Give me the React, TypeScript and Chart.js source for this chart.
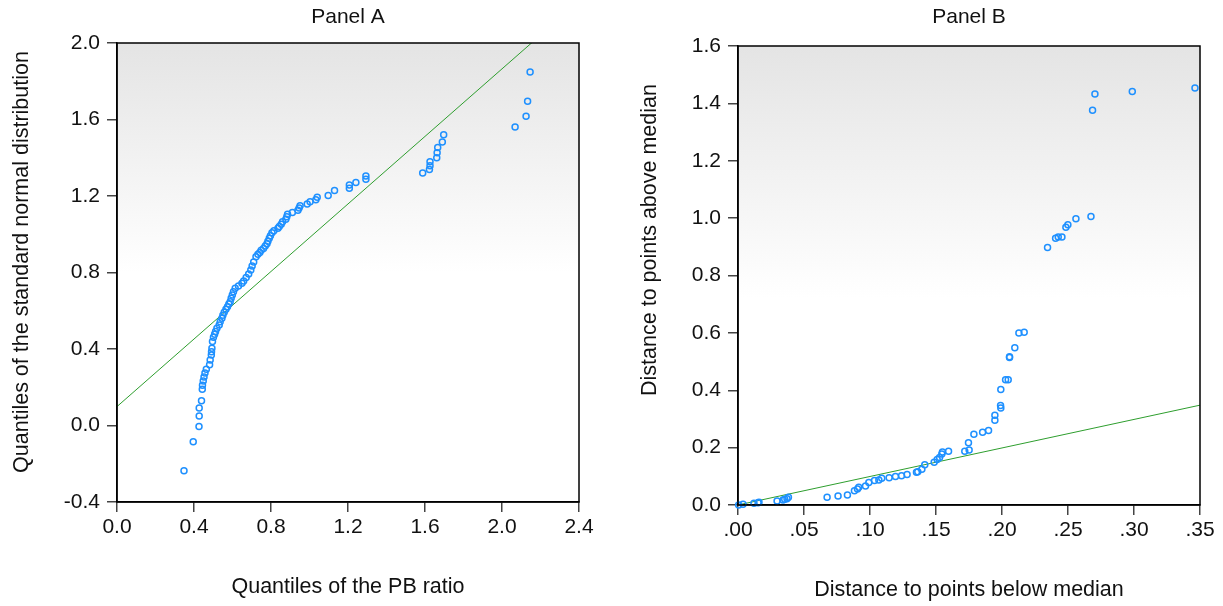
import React, { useEffect, useRef } from "react";
import { Chart, registerables } from "chart.js";

Chart.register(...registerables);

const FONT = "'Liberation Sans', Arial, Helvetica, sans-serif";

// ---------------- Panel A data ----------------
const panelATitle = "Panel A";
const panelAXLabel = "Quantiles of the PB ratio";
const panelAYLabel = "Quantiles of the standard normal distribution";
const panelAXTicks = [0, 0.4, 0.8, 1.2, 1.6, 2.0, 2.4];
const panelAYTicks = [-0.4, 0, 0.4, 0.8, 1.2, 1.6, 2.0];
const panelAX = [
  0.348, 0.396, 0.426, 0.427, 0.427, 0.439, 0.443, 0.444, 0.448, 0.452,
  0.457, 0.464, 0.481, 0.484, 0.49, 0.491, 0.493, 0.496, 0.501, 0.507,
  0.512, 0.519, 0.531, 0.536, 0.545, 0.55, 0.557, 0.566, 0.574, 0.581,
  0.588, 0.593, 0.599, 0.605, 0.614, 0.631, 0.649, 0.658, 0.671, 0.684,
  0.695, 0.702, 0.71, 0.722, 0.732, 0.742, 0.749, 0.761, 0.77, 0.779,
  0.784, 0.791, 0.797, 0.805, 0.815, 0.836, 0.843, 0.853, 0.86, 0.877,
  0.882, 0.886, 0.911, 0.94, 0.946, 0.951, 0.988, 1.003, 1.033, 1.04,
  1.097, 1.13, 1.207, 1.207, 1.241, 1.293, 1.293, 1.588, 1.623, 1.626,
  1.626, 1.661, 1.663, 1.666, 1.69, 1.697, 2.068, 2.125, 2.133, 2.146,
];
const panelAY = [
  -0.237, -0.085, -0.005, 0.05, 0.092, 0.129, 0.19, 0.211, 0.233, 0.253,
  0.274, 0.294, 0.317, 0.343, 0.369, 0.386, 0.404, 0.439, 0.462, 0.477,
  0.491, 0.509, 0.526, 0.543, 0.561, 0.576, 0.592, 0.608, 0.621, 0.635,
  0.647, 0.665, 0.682, 0.7, 0.717, 0.729, 0.744, 0.756, 0.774, 0.792,
  0.813, 0.834, 0.855, 0.882, 0.895, 0.905, 0.916, 0.926, 0.938, 0.95,
  0.964, 0.979, 0.992, 1.008, 1.018, 1.031, 1.041, 1.052, 1.065, 1.078,
  1.091, 1.104, 1.114, 1.126, 1.137, 1.149, 1.158, 1.17, 1.18, 1.193,
  1.203, 1.229, 1.24, 1.257, 1.271, 1.287, 1.304, 1.32, 1.339, 1.358,
  1.379, 1.4, 1.426, 1.454, 1.483, 1.52, 1.561, 1.617, 1.696, 1.849,
];
const panelALineX = [0, 2.4];
const panelALineY = [0.099, 2.218];

// ---------------- Panel B data ----------------
const panelBTitle = "Panel B";
const panelBXLabel = "Distance to points below median";
const panelBYLabel = "Distance to points above median";
const panelBXTicks = [0, 0.05, 0.1, 0.15, 0.2, 0.25, 0.3, 0.35];
const panelBYTicks = [0, 0.2, 0.4, 0.6, 0.8, 1.0, 1.2, 1.4, 1.6];
const panelBX = [
  0.0005, 0.0038, 0.0121, 0.0152, 0.0159, 0.0296, 0.0341, 0.0354, 0.0371, 0.0382,
  0.0675, 0.0758, 0.0829, 0.0882, 0.0905, 0.0915, 0.0966, 0.0991, 0.1034, 0.1067,
  0.1089, 0.1145, 0.1193, 0.1239, 0.1281, 0.1352, 0.1362, 0.1393, 0.1415, 0.1486,
  0.1509, 0.1527, 0.1544, 0.1549, 0.1595, 0.1718, 0.1751, 0.1746, 0.1787, 0.1853,
  0.1898, 0.1946, 0.1946, 0.1991, 0.1989, 0.1991, 0.2027, 0.2047, 0.2057, 0.2057,
  0.2097, 0.2128, 0.2168, 0.2345, 0.2406, 0.2426, 0.2454, 0.2484, 0.2499, 0.256,
  0.2674, 0.2686, 0.2704, 0.2987, 0.3462,
];
const panelBY = [
  0.0, 0.003, 0.006, 0.008, 0.01, 0.014, 0.017, 0.02, 0.022, 0.027,
  0.027, 0.031, 0.035, 0.05, 0.056, 0.062, 0.066, 0.078, 0.085, 0.087,
  0.093, 0.095, 0.099, 0.102, 0.106, 0.114, 0.116, 0.125, 0.14, 0.149,
  0.159, 0.166, 0.178, 0.185, 0.187, 0.187, 0.192, 0.217, 0.247, 0.254,
  0.26, 0.295, 0.3125, 0.338, 0.347, 0.403, 0.437, 0.437, 0.514, 0.517,
  0.548, 0.6, 0.602, 0.898, 0.93, 0.934, 0.934, 0.968, 0.977, 0.998,
  1.006, 1.376, 1.433, 1.441, 1.454,
];
const panelBLineX = [0, 0.35];
const panelBLineY = [0, 0.348];

const POINT_COLOR = "#1e90ff";
const LINE_COLOR = "#2e9e2e";

const decorPlugin = {
  id: "decor",
  beforeDraw(chart: any, _args: any, opts: any) {
    const { ctx, chartArea: a } = chart;
    const g = ctx.createLinearGradient(0, a.top, 0, a.bottom);
    g.addColorStop(0, "#e4e4e4");
    g.addColorStop(opts.fadeStop, "#ffffff");
    g.addColorStop(1, "#ffffff");
    ctx.save();
    ctx.fillStyle = g;
    ctx.fillRect(a.left, a.top, a.right - a.left, a.bottom - a.top);
    ctx.restore();
  },
  afterDraw(chart: any, _args: any, opts: any) {
    const { ctx, chartArea: a } = chart;
    ctx.save();
    ctx.strokeStyle = "#000";
    ctx.lineWidth = 1.5;
    ctx.strokeRect(a.left, a.top, a.right - a.left, a.bottom - a.top);
    ctx.fillStyle = "#111";
    ctx.textAlign = "center";
    ctx.textBaseline = "middle";
    ctx.font = `${opts.titleSize}px ${FONT}`;
    const cx = (a.left + a.right) / 2;
    ctx.fillText(opts.title, cx, opts.titleY);
    ctx.font = `${opts.labelSize}px ${FONT}`;
    ctx.fillText(opts.xLabel, cx + opts.xLabelDx, opts.xLabelY);
    ctx.translate(opts.yLabelX, opts.yLabelY);
    ctx.rotate(-Math.PI / 2);
    ctx.fillText(opts.yLabel, 0, 0);
    ctx.restore();
  },
};

type PanelSpec = {
  xs: number[];
  ys: number[];
  lineX: number[];
  lineY: number[];
  xTicks: number[];
  yTicks: number[];
  xFmt: (v: number) => string;
  yFmt: (v: number) => string;
  yAxisWidth: number;
  xAxisHeight: number;
  padding: { top: number; right: number; left: number; bottom: number };
  decor: any;
};

function makeConfig(p: PanelSpec): any {
  const pts = p.xs.map((x, i) => ({ x, y: p.ys[i] }));
  const line = p.lineX.map((x, i) => ({ x, y: p.lineY[i] }));
  const xMin = p.xTicks[0];
  const xMax = p.xTicks[p.xTicks.length - 1];
  const yMin = p.yTicks[0];
  const yMax = p.yTicks[p.yTicks.length - 1];
  const tickFont = { family: FONT, size: 21 };
  return {
    type: "scatter",
    data: {
      datasets: [
        {
          data: line,
          showLine: true,
          borderColor: LINE_COLOR,
          borderWidth: 1,
          pointRadius: 0,
          order: 2,
        },
        {
          data: pts,
          pointRadius: 3,
          pointBorderWidth: 1.5,
          pointBorderColor: POINT_COLOR,
          pointBackgroundColor: "rgba(255,255,255,0)",
          borderColor: POINT_COLOR,
          backgroundColor: "rgba(255,255,255,0)",
          clip: 5,
          order: 1,
        },
      ],
    },
    options: {
      animation: false,
      responsive: false,
      layout: { padding: p.padding },
      plugins: {
        legend: { display: false },
        tooltip: { enabled: false },
        decor: p.decor,
      },
      scales: {
        x: {
          type: "linear",
          min: xMin,
          max: xMax,
          afterBuildTicks: (s: any) => {
            s.ticks = p.xTicks.map((v) => ({ value: v }));
          },
          afterFit: (s: any) => {
            s.height = p.xAxisHeight;
          },
          ticks: {
            callback: (v: any) => p.xFmt(Number(v)),
            font: tickFont,
            color: "#111",
            padding: 3,
            maxRotation: 0,
            autoSkip: false,
          },
          grid: {
            drawOnChartArea: false,
            drawTicks: true,
            tickLength: 10,
            color: "#444",
            lineWidth: 1.5,
          },
          border: { display: true, color: "#000", width: 1.5 },
        },
        y: {
          type: "linear",
          min: yMin,
          max: yMax,
          afterBuildTicks: (s: any) => {
            s.ticks = p.yTicks.map((v) => ({ value: v }));
          },
          afterFit: (s: any) => {
            s.width = p.yAxisWidth;
          },
          ticks: {
            callback: (v: any) => p.yFmt(Number(v)),
            font: tickFont,
            color: "#111",
            padding: 7,
            autoSkip: false,
          },
          grid: {
            drawOnChartArea: false,
            drawTicks: true,
            tickLength: 10,
            color: "#444",
            lineWidth: 1.5,
          },
          border: { display: true, color: "#000", width: 1.5 },
        },
      },
    },
    plugins: [decorPlugin],
  };
}

function Panel({ spec, left, width }: { spec: PanelSpec; left: number; width: number }) {
  const ref = useRef<HTMLCanvasElement | null>(null);
  useEffect(() => {
    if (!ref.current) return;
    const chart = new Chart(ref.current, makeConfig(spec));
    return () => chart.destroy();
  }, []);
  return (
    <canvas
      ref={ref}
      width={width}
      height={606}
      style={{ position: "absolute", left, top: 0, width, height: 606 }}
    />
  );
}

const fmt1 = (v: number) => (Math.abs(v) < 1e-9 ? "0.0" : v.toFixed(1));
const fmtDot = (v: number) => v.toFixed(2).replace(/^0/, "");

const specA: PanelSpec = {
  xs: panelAX,
  ys: panelAY,
  lineX: panelALineX,
  lineY: panelALineY,
  xTicks: panelAXTicks,
  yTicks: panelAYTicks,
  xFmt: fmt1,
  yFmt: fmt1,
  yAxisWidth: 117,
  xAxisHeight: 104,
  padding: { top: 43, right: 21, left: 0, bottom: 0 },
  decor: {
    title: panelATitle,
    xLabel: panelAXLabel,
    yLabel: panelAYLabel,
    titleSize: 21,
    labelSize: 21.5,
    titleY: 17,
    xLabelY: 587,
    xLabelDx: 0,
    yLabelX: 22,
    yLabelY: 262,
    fadeStop: 0.5,
  },
};

const specB: PanelSpec = {
  xs: panelBX,
  ys: panelBY,
  lineX: panelBLineX,
  lineY: panelBLineY,
  xTicks: panelBXTicks,
  yTicks: panelBYTicks,
  xFmt: fmtDot,
  yFmt: fmt1,
  yAxisWidth: 127,
  xAxisHeight: 101,
  padding: { top: 46, right: 23, left: 0, bottom: 0 },
  decor: {
    title: panelBTitle,
    xLabel: panelBXLabel,
    yLabel: panelBYLabel,
    titleSize: 21,
    labelSize: 21.5,
    titleY: 17,
    xLabelY: 590,
    xLabelDx: 0,
    yLabelX: 39,
    yLabelY: 240,
    fadeStop: 0.55,
  },
};

export default function App() {
  return (
    <div style={{ position: "absolute", left: 0, top: 0, width: 1223, height: 606, background: "#fff" }}>
      <Panel spec={specA} left={0} width={600} />
      <Panel spec={specB} left={611} width={612} />
    </div>
  );
}
